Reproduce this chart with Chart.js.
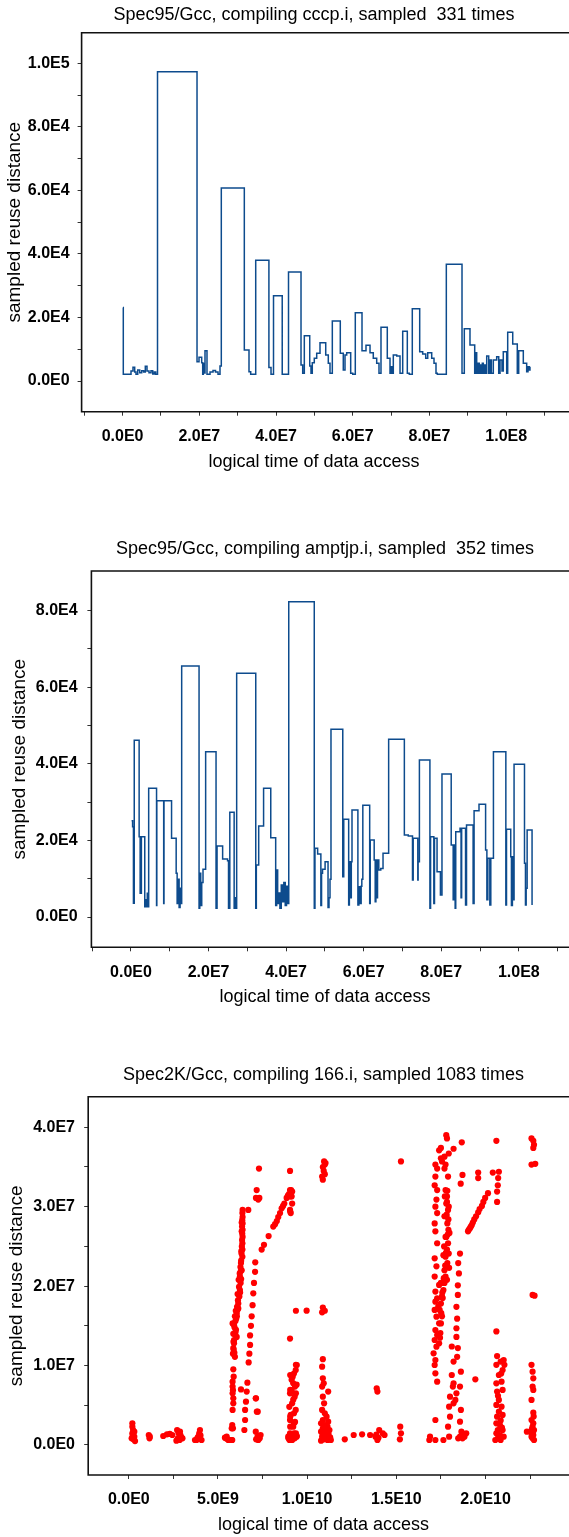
<!DOCTYPE html>
<html>
<head>
<meta charset="utf-8">
<script src="https://cdn.jsdelivr.net/npm/chart.js@4"></script>
<style>
  html, body { margin: 0; padding: 0; background: #fff; overflow: hidden; width: 569px; height: 1537px; }
  canvas { position: absolute; left: 0; }
</style>
</head>
<body>
<canvas id="cccp" width="569" height="478" style="top:0px"></canvas>
<canvas id="amptjp" width="569" height="494" style="top:520px"></canvas>
<canvas id="spec2k" width="569" height="492" style="top:1045px"></canvas>
<script>
// cccp.i run: time in millions of accesses, reuse distance as is
const cccpTime = [0.10, 0.18, 2.19, 2.71, 3.15, 3.49, 3.94, 4.46, 4.98, 5.50, 5.92, 6.36, 6.88, 7.40, 7.85, 8.26, 8.63, 9.10,
  19.40, 19.92, 20.62, 20.88, 21.04, 21.22, 21.48, 22.00, 22.79, 23.57, 24.22, 24.87, 25.39, 25.73, 31.73, 32.95, 33.39,
  34.70, 38.14, 38.69, 39.34, 41.61, 43.25, 46.51, 46.95, 47.37, 48.78, 49.11, 49.45, 49.97, 50.60, 51.46, 52.95, 53.62,
  54.07, 54.67, 56.75, 57.53, 57.98, 58.42, 59.46, 59.99, 60.66, 62.41, 63.45, 64.50, 65.35, 66.24, 66.84, 67.36, 69.00,
  69.71, 70.05, 70.41, 70.57, 71.46, 72.32, 73.02, 74.22, 74.74, 75.52, 77.45, 78.23, 79.02, 79.54, 80.58, 81.18, 81.70,
  82.04, 84.39, 88.48, 89.08, 90.56, 91.79, 91.95, 92.31, 92.65, 92.99, 93.25, 93.51, 93.77, 94.03, 94.29, 94.55, 94.92,
  95.44, 95.78, 96.12, 96.64, 97.52, 98.05, 98.39, 98.90, 99.24, 100.13, 100.39, 101.70, 102.89, 103.26, 104.46, 105.34,
  105.68, 106.02, 106.20];
const cccpDist = [23140, 2110, 3150, 4310, 2830, 2110, 3460, 2610, 3240, 2830, 4630, 3150, 2610, 3240, 2200, 2830, 2110, 97370,
  6080, 7460, 5760, 2110, 5500, 2500, 9540, 2110, 2830, 3300, 2830, 2110, 4700, 60760, 9760, 2930, 2110,
  38000, 4250, 2110, 26850, 2110, 34310, 5040, 2420, 14260, 4720, 2420, 5760, 7150, 8720, 12060, 8180, 5570,
  2420, 18890, 8720, 3460, 8180, 8910, 2420, 2110, 21500, 9540, 11240, 8910, 7150, 5570, 2420, 16900, 7150,
  2420, 4500, 2420, 8180, 7870, 2420, 15650, 2420, 2110, 22760, 9220, 8500, 7150, 8910, 7150, 5570, 2420,
  2110, 36740, 2420, 16460, 11330, 2420, 8910, 2420, 5570, 2420, 5000, 2420, 5570, 2420, 5000, 2420, 7870,
  2420, 6610, 2420, 6610, 7650, 2420, 6610, 3150, 9220, 2420, 15330, 11650, 2420, 9540, 5570, 2930,
  4500, 3460, 4500];

// amptjp.i run
const amptTime = [0.15, 0.41, 0.63, 0.84, 2.10, 2.36, 2.68, 3.55, 3.80, 3.95, 4.20, 4.38, 4.56, 6.59, 6.66, 8.43, 8.51,
  10.46, 11.65, 11.90, 12.16, 12.41, 12.66, 12.92, 13.07, 17.55, 17.73, 17.98, 18.24, 18.57, 19.25, 21.93, 22.19, 23.63,
  24.90, 25.15, 25.48, 26.60, 26.85, 27.00, 27.25, 32.17, 32.32, 32.93, 34.19, 36.04, 37.31, 37.56, 37.82, 38.15, 38.40,
  38.75, 39.08, 39.41, 39.77, 40.10, 40.43, 40.68, 47.26, 47.44, 48.13, 48.96, 49.14, 49.39, 50.05, 50.81, 51.06, 51.32,
  51.57, 54.61, 54.86, 56.13, 56.31, 56.64, 56.81, 56.99, 58.51, 58.76, 59.09, 59.35, 59.52, 59.78, 61.55, 61.70, 62.71,
  62.97, 63.15, 63.40, 63.57, 63.90, 64.41, 64.99, 66.44, 70.49, 71.50, 72.59, 72.77, 73.96, 74.04, 74.37, 77.08, 77.25,
  78.09, 78.26, 78.92, 79.79, 80.19, 82.57, 83.08, 83.23, 83.59, 83.74, 84.85, 85.11, 85.26, 86.27, 86.52, 88.22, 88.47,
  89.74, 91.44, 91.77, 92.02, 92.53, 92.78, 93.46, 96.66, 96.83, 97.92, 98.10, 98.35, 98.60, 98.78, 101.47, 101.72,
  101.90, 102.15, 103.42];
const amptDist = [25150, 23590, 3580, 46150, 20970, 6190, 20970, 2690, 4500, 2690, 6190, 2690, 33620, 3000, 30380, 3500, 30380,
  20560, 11410, 3500, 9850, 2500, 7500, 3500, 65560, 2270, 11410, 3000, 9000, 12460, 43180, 2270, 18550, 15150,
  14710, 2270, 27350, 2270, 5000, 2270, 63650, 2270, 13580, 23770, 33620, 20710, 3000, 12280, 3500, 6270, 2270,
  8360, 4000, 9000, 3000, 8000, 3500, 82360, 2270, 17940, 16460, 3000, 11410, 12460, 14450, 2500, 5000, 9850,
  49030, 10530, 25520, 3130, 14450, 5000, 14450, 27950, 3130, 7910, 3500, 8000, 9850, 29180, 3500, 20110, 14890,
  4000, 14890, 5000, 14890, 12280, 12690, 16640, 46410, 21420, 21160, 9660, 20560, 9660, 14450, 41010, 2270, 20970,
  3500, 20560, 11830, 5750, 37350, 18810, 4500, 18810, 2270, 22280, 23170, 5000, 23170, 3130, 24030, 3500, 27770,
  29440, 17500, 4500, 15330, 3130, 15330, 43180, 3130, 22910, 15750, 3000, 15750, 4500, 39880, 14030, 3130,
  7500, 22720, 3130];

// 166.i run: [time in 1e9 accesses, distance in 1e6]
const earlyPts = [[0.20, 2.73], [0.20, 2.31], [0.24, 1.89], [0.20, 1.47], [0.31, 1.05], [0.26, 0.71], [0.35, 0.50], [0.16, 0.84],
  [0.31, 1.68], [0.22, 1.2], [0.28, 0.9], [1.12, 1.26], [1.16, 0.84], [1.18, 1.05], [1.93, 1.13], [2.14, 1.34], [2.30, 1.39],
  [2.44, 1.26], [2.71, 1.89], [2.79, 1.47], [2.75, 0.84], [2.85, 0.63], [2.95, 0.97], [3.01, 0.84], [2.87, 1.68], [2.67, 0.55],
  [2.90, 1.2], [3.80, 0.63], [3.99, 1.89], [3.90, 1.05], [3.71, 0.63], [4.08, 0.63], [3.95, 1.47], [3.85, 0.9], [4.02, 1.2],
  [5.39, 0.92], [5.55, 0.71], [5.49, 1.05], [5.64, 0.63], [5.80, 0.63], [5.45, 0.84], [5.58, 0.63], [5.77, 0.63]];
const firstColPts = [[5.80, 2.52], [5.84, 2.10], [5.77, 2.1], [5.86, 9.53], [5.82, 7.97], [5.82, 7.35], [5.82, 6.51], [5.86, 5.88],
  [5.86, 5.25], [5.82, 4.41], [5.84, 6.9], [5.88, 8.6], [5.95, 11.1], [5.86, 12.2], [5.90, 13.2], [6.05, 13.6], [6.01, 14.5],
  [5.82, 15.3], [5.95, 16.2], [6.05, 16.6], [6.09, 17.0], [6.14, 17.8], [6.20, 18.7], [6.23, 19.5], [6.27, 20.4], [6.23, 21.2],
  [6.33, 22.0], [6.29, 22.9], [6.37, 23.7], [6.37, 24.6], [6.37, 25.4], [6.38, 26.2], [6.38, 27.1], [6.38, 27.9], [6.38, 28.7],
  [6.38, 29.6], [5.88, 12.0], [5.92, 11.6], [5.90, 12.8], [5.96, 13.9], [5.93, 14.8], [5.98, 15.6], [6.02, 15.9], [6.00, 16.9],
  [6.07, 17.4], [6.12, 18.2], [6.10, 19.0], [6.18, 19.9], [6.16, 20.8], [6.22, 21.6], [6.26, 22.4], [6.30, 23.2], [6.32, 24.1],
  [6.34, 25.0], [6.35, 25.8], [6.36, 26.6], [6.35, 27.5], [6.36, 28.3], [6.37, 29.2], [6.33, 26.9], [6.31, 24.4], [6.28, 21.9],
  [6.33, 28.0], [6.30, 20.9], [6.24, 19.2], [6.14, 17.2], [6.06, 16.2], [5.98, 14.2], [5.87, 13.0], [5.84, 11.5], [5.90, 15.1],
  [5.86, 14.0], [6.70, 29.6]];
const secondColPts = [[7.09, 23.0], [7.08, 21.8], [7.02, 20.4], [6.98, 19.1], [6.94, 17.6], [6.89, 16.2], [6.85, 15.0], [6.80, 13.8],
  [6.80, 12.6], [6.76, 11.5], [6.72, 10.4], [6.65, 7.85], [6.61, 6.72], [6.57, 5.46], [6.52, 4.41], [6.52, 3.15], [6.48, 1.89],
  [6.29, 7.0], [7.13, 5.88], [7.23, 4.2], [7.17, 32.1], [7.13, 31.1], [7.26, 30.9], [7.32, 31.1], [7.30, 34.8], [7.45, 24.6],
  [7.58, 25.2], [7.84, 26.3], [8.10, 27.5], [8.20, 27.8], [8.38, 28.7], [8.48, 29.2], [8.57, 29.8], [8.72, 30.4], [8.85, 31.1],
  [8.98, 31.6], [9.04, 32.1], [9.10, 32.1], [9.13, 31.3], [9.04, 29.6], [9.08, 29.2], [9.04, 34.5], [9.16, 31.9], [9.05, 31.3],
  [9.16, 30.4], [9.05, 29.4], [8.30, 28.2], [8.65, 30.1], [8.92, 31.4], [7.12, 1.68], [7.22, 1.05], [7.26, 0.63], [7.14, 0.71],
  [7.34, 0.84], [7.39, 1.26], [7.18, 4.20], [7.12, 5.88]];
const thirdColPts = [[9.37, 16.9], [9.04, 13.4], [9.37, 10.1], [9.26, 9.0], [9.13, 8.2], [9.32, 7.35], [9.04, 6.5], [9.22, 5.7],
  [9.00, 4.8], [9.26, 4.0], [9.04, 3.15], [9.22, 2.3], [9.04, 1.47], [9.37, 1.47], [9.13, 0.84], [9.41, 1.05], [8.94, 1.05],
  [9.19, 8.6], [9.37, 6.5], [9.13, 6.9], [9.41, 7.6], [9.08, 3.8], [9.32, 2.9], [8.95, 0.84], [9.05, 1.05], [9.16, 0.63],
  [9.30, 0.84], [9.42, 1.13], [9.26, 1.47], [9.01, 0.63], [9.05, 2.31], [9.26, 2.73], [9.05, 3.57], [9.36, 4.41], [9.16, 5.25],
  [9.30, 6.09], [9.05, 6.93], [9.22, 7.76], [9.05, 8.81], [9.36, 9.44], [9.42, 10.07], [9.97, 16.91]];
const middlePts = [[10.95, 35.7], [10.99, 35.3], [10.88, 35.0], [10.93, 34.5], [10.99, 34.1], [10.88, 33.4], [10.84, 33.8],
  [11.03, 35.5], [10.88, 17.3], [10.99, 16.9], [10.84, 16.7], [10.88, 10.8], [10.84, 9.86], [10.88, 8.39], [10.93, 7.76],
  [10.84, 7.35], [11.18, 6.72], [10.88, 6.09], [10.95, 5.25], [10.84, 4.41], [10.99, 3.99], [11.09, 3.57], [10.88, 3.15],
  [11.18, 2.94], [10.78, 2.73], [10.99, 2.52], [11.14, 2.31], [10.88, 2.10], [11.25, 1.89], [10.78, 1.68], [10.99, 1.47],
  [11.09, 1.26], [10.84, 1.05], [11.29, 0.97], [10.99, 0.84], [11.14, 0.63], [10.78, 0.55], [11.33, 0.63], [10.95, 1.68],
  [11.05, 1.97], [11.20, 1.4], [11.02, 1.1], [10.90, 0.7], [11.22, 0.75], [12.11, 0.71], [12.61, 1.26], [13.08, 1.34],
  [13.53, 1.26], [13.83, 1.05], [13.94, 0.63], [14.04, 1.89], [14.24, 1.47], [14.34, 1.26], [13.90, 7.14], [13.94, 6.72],
  [15.22, 2.31], [15.26, 1.47], [15.20, 0.71], [15.26, 35.7], [13.88, 1.3], [14.0, 0.9]];
const bigClusterPts = [[16.89, 1.05], [16.85, 0.63], [17.19, 3.15], [17.19, 0.63], [17.29, 7.97], [17.19, 9.02], [17.15, 10.07],
  [17.19, 10.7], [17.09, 11.54], [17.25, 12.38], [17.15, 13.22], [17.29, 13.85], [17.19, 14.48], [17.40, 15.32], [17.25, 16.16],
  [17.15, 17.0], [17.35, 17.42], [17.19, 18.05], [17.29, 18.47], [17.19, 19.31], [17.40, 20.15], [17.15, 21.2], [17.25, 22.5],
  [17.15, 23.5], [17.29, 25.4], [17.19, 26.9], [17.15, 27.9], [17.29, 29.2], [17.19, 30.0], [17.25, 30.9], [17.29, 32.1],
  [17.15, 32.7], [17.19, 33.8], [17.29, 34.8], [17.19, 35.3], [17.40, 37.1], [17.50, 36.1], [17.56, 35.7],
  [17.76, 32.1], [17.84, 31.3], [17.80, 30.4], [17.90, 29.6], [17.80, 28.8], [17.86, 27.9], [17.92, 27.1], [17.80, 26.2],
  [17.90, 25.4], [17.84, 24.6], [17.76, 23.7], [17.86, 22.9], [17.70, 22.0], [17.76, 21.2], [17.60, 20.4], [17.64, 19.5],
  [17.56, 18.7], [17.50, 17.8], [17.43, 17.0], [17.56, 16.2], [17.50, 15.3], [17.47, 14.1], [17.40, 12.8], [17.64, 23.9],
  [17.94, 24.1], [17.70, 20.4], [17.60, 18.5], [17.76, 26.2], [17.94, 30.0], [17.70, 28.8], [17.98, 26.7], [17.84, 30.6],
  [17.72, 31.3], [17.68, 25.0], [17.96, 22.3], [17.84, 20.8], [17.50, 20.4], [17.82, 29.0], [17.88, 26.5], [17.78, 24.2],
  [17.74, 22.6], [17.66, 21.0], [17.58, 19.2], [17.52, 16.6], [17.45, 13.5], [17.86, 32.0], [17.92, 28.4],
  [17.80, 39.0], [17.84, 38.6], [17.50, 37.4], [17.70, 36.3], [17.76, 35.3], [17.70, 34.8], [17.94, 36.7], [17.90, 33.8],
  [18.11, 12.4], [18.21, 10.5], [18.11, 8.81], [18.17, 7.35], [18.01, 6.09], [17.96, 4.83], [18.01, 3.57], [17.90, 2.31],
  [17.96, 1.05], [17.64, 0.63], [18.21, 5.25], [18.31, 5.67], [18.37, 6.51], [18.21, 7.76], [18.41, 11.1], [18.45, 12.2],
  [18.37, 13.6], [18.37, 14.7], [18.41, 15.9], [18.37, 17.4], [18.45, 18.9], [18.45, 20.1], [18.51, 21.6], [18.47, 22.9],
  [18.57, 24.1], [18.62, 9.23], [18.57, 7.35], [18.62, 4.41], [18.57, 2.94], [18.65, 1.68], [18.57, 1.05], [18.71, 0.84],
  [18.82, 1.05], [18.92, 1.47], [18.47, 0.84], [18.75, 1.26], [18.21, 37.3], [18.67, 38.1], [18.61, 32.9], [18.71, 34.0],
  [19.59, 34.3], [19.59, 33.6], [19.02, 26.9], [19.13, 27.3], [19.23, 27.7], [19.29, 28.0], [19.37, 28.4], [19.47, 28.8],
  [19.59, 29.3], [19.67, 29.7], [19.80, 30.1], [19.88, 30.6], [19.98, 31.1], [20.14, 31.7], [19.06, 27.1], [19.18, 27.5],
  [19.43, 8.27]];
const lateColPts = [[20.61, 38.3], [20.41, 34.3], [20.75, 34.4], [20.71, 33.6], [20.69, 32.7], [20.65, 31.9], [20.65, 30.6],
  [20.61, 14.3], [20.65, 11.2], [20.61, 10.1], [20.85, 10.5], [20.96, 9.44], [20.75, 8.81], [20.61, 7.76], [20.90, 7.97],
  [20.65, 6.72], [20.96, 6.93], [20.75, 5.67], [20.61, 5.04], [20.90, 4.83], [20.75, 4.20], [20.65, 3.57], [20.96, 3.78],
  [20.61, 2.73], [20.81, 2.52], [20.69, 1.89], [20.96, 1.89], [20.61, 1.47], [20.81, 1.26], [21.02, 1.05], [20.69, 0.84],
  [20.85, 0.63], [20.55, 0.63], [21.02, 10.7], [21.06, 10.1], [20.88, 9.0], [20.7, 6.2], [20.85, 3.1], [20.92, 2.2],
  [22.58, 38.6], [22.68, 38.3], [22.72, 37.8], [22.68, 37.4], [22.58, 35.3], [22.79, 35.4], [22.64, 18.9], [22.75, 18.8],
  [22.58, 10.1], [22.64, 9.23], [22.68, 8.39], [22.64, 7.35], [22.68, 6.93], [22.58, 5.67], [22.68, 4.07], [22.58, 3.15],
  [22.68, 2.73], [22.64, 2.31], [22.72, 1.89], [22.58, 1.47], [22.68, 1.26], [22.64, 0.84], [22.72, 0.63], [22.32, 1.68],
  [22.58, 1.05], [22.7, 3.6], [22.6, 2.0], [22.66, 1.6]];

// ticks (minor ones carry no label)
const timeTicks95 = [-10, 0, 10, 20, 30, 40, 50, 60, 70, 80, 90, 100, 110];
const timeMajor95 = [0, 20, 40, 60, 80, 100];
const timeLabels95 = ['0.0E0', '2.0E7', '4.0E7', '6.0E7', '8.0E7', '1.0E8'];
const cccpDistTicks = [0, 10000, 20000, 30000, 40000, 50000, 60000, 70000, 80000, 90000, 100000];
const cccpDistMajor = [0, 20000, 40000, 60000, 80000, 100000];
const cccpDistLabels = ['0.0E0', '2.0E4', '4.0E4', '6.0E4', '8.0E4', '1.0E5'];
const amptDistTicks = [0, 10000, 20000, 30000, 40000, 50000, 60000, 70000, 80000];
const amptDistMajor = [0, 20000, 40000, 60000, 80000];
const amptDistLabels = ['0.0E0', '2.0E4', '4.0E4', '6.0E4', '8.0E4'];
const timeTicks2k = [0, 2.5, 5, 7.5, 10, 12.5, 15, 17.5, 20, 22.5];
const timeMajor2k = [0, 5, 10, 15, 20];
const timeLabels2k = ['0.0E0', '5.0E9', '1.0E10', '1.5E10', '2.0E10'];
const distTicks2k = [0, 5, 10, 15, 20, 25, 30, 35, 40];
const distMajor2k = [0, 10, 20, 30, 40];
const distLabels2k = ['0.0E0', '1.0E7', '2.0E7', '3.0E7', '4.0E7'];

Chart.defaults.font.family = "'Liberation Sans', Arial, sans-serif";
Chart.defaults.color = '#000';

// open box: top, left and bottom lines run to the canvas edge
const frame = {
  id: 'frame',
  afterDraw(chart) {
    const { ctx, chartArea: a, width } = chart;
    ctx.save();
    ctx.strokeStyle = '#111';
    ctx.lineWidth = 1.6;
    ctx.beginPath();
    ctx.moveTo(width, a.top);
    ctx.lineTo(a.left, a.top);
    ctx.lineTo(a.left, a.bottom);
    ctx.lineTo(width, a.bottom);
    ctx.stroke();
    ctx.restore();
  }
};

function axis(o) {
  return {
    type: 'linear',
    min: o.min,
    max: o.max,
    afterFit: s => {
      if (o.width) s.width = o.width;
      if (o.height) s.height = o.height;
    },
    afterBuildTicks: s => { s.ticks = o.ticks.map(v => ({ value: v })); },
    grid: { drawOnChartArea: false, drawTicks: true, tickLength: 4, color: '#333', lineWidth: 1 },
    border: { display: false },
    ticks: {
      autoSkip: false,
      maxRotation: 0,
      padding: o.pad,
      font: { size: 16, weight: 'bold' },
      callback: v => {
        const k = o.major.indexOf(v);
        return k < 0 ? '' : o.labels[k];
      }
    },
    title: { display: true, text: o.title, font: { size: o.titleSize }, padding: o.titlePad }
  };
}

function makeChart(id, dataset, opts) {
  const ctx = document.getElementById(id).getContext('2d');
  return new Chart(ctx, {
    type: dataset.type,
    data: { datasets: [dataset] },
    options: {
      responsive: false,
      animation: false,
      devicePixelRatio: 1,
      events: [],
      layout: { padding: { left: 0, top: 0, bottom: 0, right: opts.padRight } },
      plugins: {
        legend: { display: false },
        tooltip: { enabled: false },
        title: {
          display: true,
          text: opts.title,
          fullSize: false,
          font: { size: 18, weight: 'normal' },
          padding: opts.titlePad
        }
      },
      scales: { x: axis(opts.x), y: axis(opts.y) }
    },
    plugins: [frame]
  });
}

function stepLine(times, dists) {
  return {
    type: 'line',
    data: times.map((t, i) => ({ x: t, y: dists[i] })),
    borderColor: '#0d4b8d',
    borderWidth: 1.5,
    pointRadius: 0,
    stepped: true,
    fill: false,
    tension: 0
  };
}

makeChart('cccp', stepLine(cccpTime, cccpDist), {
  title: 'Spec95/Gcc, compiling cccp.i, sampled  331 times',
  titlePad: { top: 4.2, bottom: 6.9 },
  padRight: 22.6,
  x: { min: -10.69, max: 110.48, ticks: timeTicks95, major: timeMajor95, labels: timeLabels95, pad: 11.4,
       height: 66.3, title: 'logical time of data access', titleSize: 18, titlePad: { top: 0, bottom: 5.5 } },
  y: { min: -9663, max: 109630, ticks: cccpDistTicks, major: cccpDistMajor, labels: cccpDistLabels, pad: 8,
       width: 81.6, title: 'sampled reuse distance', titleSize: 19, titlePad: { top: 3.6, bottom: 0 } }
});

makeChart('amptjp', stepLine(amptTime, amptDist), {
  title: 'Spec95/Gcc, compiling amptjp.i, sampled  352 times',
  titlePad: { top: 18.5, bottom: 10.9 },
  padRight: 2,
  x: { min: -10.21, max: 110.26, ticks: timeTicks95, major: timeMajor95, labels: timeLabels95, pad: 11.4,
       height: 66.7, title: 'logical time of data access', titleSize: 18, titlePad: { top: 0, bottom: 5.9 } },
  y: { min: -7913, max: 90363, ticks: amptDistTicks, major: amptDistMajor, labels: amptDistLabels, pad: 9.8,
       width: 91.4, title: 'sampled reuse distance', titleSize: 19, titlePad: { top: 8.6, bottom: 0 } }
});

const spec2kPts = [].concat(earlyPts, firstColPts, secondColPts, thirdColPts, middlePts, bigClusterPts, lateColPts);

makeChart('spec2k', {
  type: 'scatter',
  data: spec2kPts.map(p => ({ x: p[0], y: p[1] })),
  backgroundColor: '#ff0000',
  borderWidth: 0,
  pointRadius: 3.1
}, {
  title: 'Spec2K/Gcc, compiling 166.i, sampled 1083 times',
  titlePad: { top: 19.2, bottom: 10.9 },
  padRight: 10.2,
  x: { min: -2.276, max: 24.11, ticks: timeTicks2k, major: timeMajor2k, labels: timeLabels2k, pad: 11.4,
       height: 62, title: 'logical time of data access', titleSize: 18, titlePad: { top: 0, bottom: 1.2 } },
  y: { min: -3.777, max: 43.85, ticks: distTicks2k, major: distMajor2k, labels: distLabels2k, pad: 9.2,
       width: 88.2, title: 'sampled reuse distance', titleSize: 19, titlePad: { top: 4.9, bottom: 0 } }
});
</script>
</body>
</html>
